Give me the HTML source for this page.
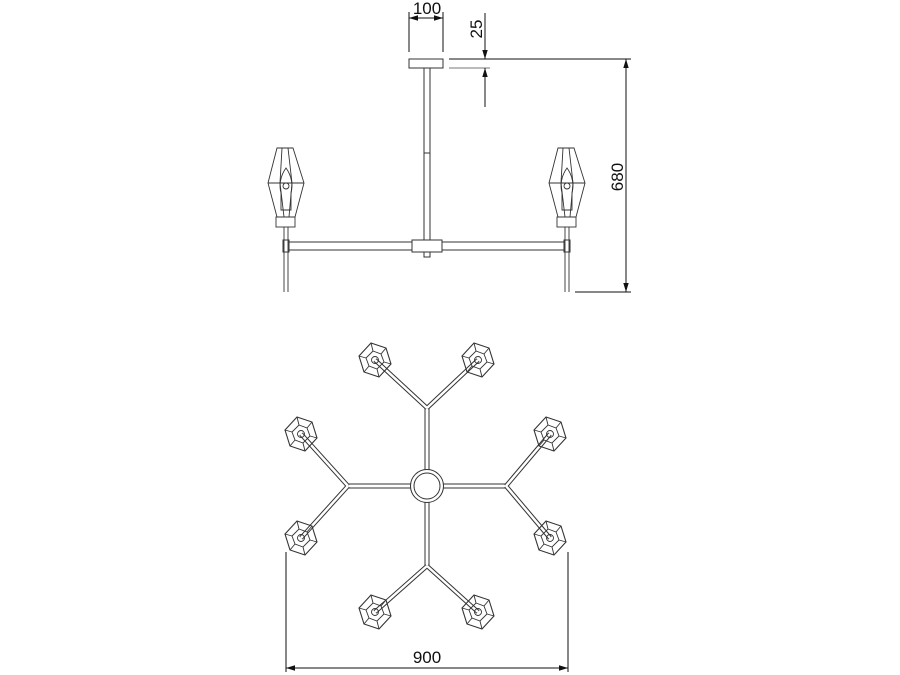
<!DOCTYPE html>
<html><head><meta charset="utf-8"><style>
html,body{margin:0;padding:0;background:#fff;}
svg{display:block}
text{font-family:"Liberation Sans",sans-serif;fill:#111}
</style></head><body>
<svg width="900" height="675" viewBox="0 0 900 675" xmlns="http://www.w3.org/2000/svg">
<defs>
<marker id="ar" viewBox="0 0 10 10" refX="10" refY="5" markerWidth="9" markerHeight="9" orient="auto-start-reverse" markerUnits="userSpaceOnUse"><path d="M0,2 L10,5 L0,8 z" fill="#111"/></marker>
<g id="shade" fill="none" stroke="#333" stroke-width="0.9">
<polygon points="-9,0 7,0 18,35 9,69 -9,69 -18,35"/>
<line x1="-18" y1="35" x2="18" y2="35"/>
<polyline points="-4,0 -6,35 -2,69"/>
<polyline points="2,0 6,35 3,69"/>
<path d="M0,20 C-6,28 -7,38 -5,45 L-5,62 L5,62 L5,45 C7,38 6,28 0,20 z"/>
<circle cx="0" cy="38" r="3"/>
<rect x="-10" y="69" width="19" height="10"/>
<line x1="-2" y1="79" x2="-2" y2="144"/>
<line x1="2" y1="79" x2="2" y2="144"/>
</g>
<g id="hex" fill="none" stroke="#333" stroke-width="0.9">
<polygon points="-4,-17 11,-12 16,4 4,17 -11,12 -16,-4" stroke-width="1.1"/>
<polygon points="-2,-9 6,-6 9,2 2,9 -6,6 -9,-2"/>
<line x1="-4" y1="-17" x2="-2" y2="-9"/><line x1="11" y1="-12" x2="6" y2="-6"/>
<line x1="16" y1="4" x2="9" y2="2"/><line x1="4" y1="17" x2="2" y2="9"/>
<line x1="-11" y1="12" x2="-6" y2="6"/><line x1="-16" y1="-4" x2="-9" y2="-2"/>
<circle r="3.5"/>
</g>
</defs>

<g fill="none" stroke="#333" stroke-width="1">
<rect x="409" y="59" width="34" height="9"/>
<rect x="424" y="68" width="6" height="172"/>
<line x1="424" y1="153" x2="430" y2="153"/>
<rect x="289" y="242" width="123" height="8"/>
<rect x="442" y="242" width="122" height="8"/>
<rect x="412" y="240" width="30" height="12"/>
<rect x="424" y="252" width="6" height="5"/>
<rect x="283" y="240" width="6" height="12"/>
<rect x="564" y="240" width="6" height="12"/>
</g>
<use href="#shade" x="286" y="148"/>
<use href="#shade" x="567" y="148"/>

<g stroke="#111" stroke-width="1" fill="none">
<line x1="409" y1="12" x2="409" y2="52"/>
<line x1="443" y1="12" x2="443" y2="52"/>
<line x1="409" y1="18" x2="443" y2="18" marker-start="url(#ar)" marker-end="url(#ar)"/>
<line x1="449" y1="59" x2="631" y2="59"/>
<line x1="449" y1="68" x2="490" y2="68" stroke="#777"/>
<line x1="485" y1="13" x2="485" y2="59" marker-end="url(#ar)"/>
<line x1="485" y1="107" x2="485" y2="68" marker-end="url(#ar)"/>
<line x1="626" y1="59" x2="626" y2="292" marker-start="url(#ar)" marker-end="url(#ar)"/>
<line x1="575" y1="292" x2="631" y2="292"/>
</g>
<text x="427" y="14" font-size="17" text-anchor="middle">100</text>
<text transform="translate(482,29) rotate(-90)" font-size="17" text-anchor="middle">25</text>
<text transform="translate(623,177) rotate(-90)" font-size="17" text-anchor="middle">680</text>

<g fill="none" stroke="#333" stroke-width="1">
<circle cx="427" cy="486" r="16.5"/>
<circle cx="427" cy="486" r="13"/>
<line x1="425" y1="408" x2="425" y2="470"/><line x1="429" y1="408" x2="429" y2="470"/>
<line x1="425" y1="502" x2="425" y2="566"/><line x1="429" y1="502" x2="429" y2="566"/>
<line x1="348" y1="484" x2="411" y2="484"/><line x1="348" y1="488" x2="411" y2="488"/>
<line x1="443" y1="484" x2="506" y2="484"/><line x1="443" y1="488" x2="506" y2="488"/>
</g>
<g stroke="#333" stroke-width="4.5" stroke-linecap="butt">
<line x1="427" y1="408" x2="375" y2="360"/><line x1="427" y1="408" x2="478" y2="360"/>
<line x1="427" y1="566" x2="375" y2="612"/><line x1="427" y1="566" x2="478" y2="612"/>
<line x1="348" y1="486" x2="301" y2="434"/><line x1="348" y1="486" x2="301" y2="538"/>
<line x1="506" y1="486" x2="550" y2="434"/><line x1="506" y1="486" x2="550" y2="538"/>
</g>
<g stroke="#fff" stroke-width="2.5">
<line x1="427" y1="408" x2="375" y2="360"/><line x1="427" y1="408" x2="478" y2="360"/>
<line x1="427" y1="566" x2="375" y2="612"/><line x1="427" y1="566" x2="478" y2="612"/>
<line x1="348" y1="486" x2="301" y2="434"/><line x1="348" y1="486" x2="301" y2="538"/>
<line x1="506" y1="486" x2="550" y2="434"/><line x1="506" y1="486" x2="550" y2="538"/>
</g>
<use href="#hex" x="375" y="360"/><use href="#hex" x="478" y="360"/>
<use href="#hex" x="301" y="434"/><use href="#hex" x="550" y="434"/>
<use href="#hex" x="301" y="538"/><use href="#hex" x="550" y="538"/>
<use href="#hex" x="375" y="612"/><use href="#hex" x="478" y="612"/>

<g stroke="#111" stroke-width="1" fill="none">
<line x1="286" y1="552" x2="286" y2="672"/>
<line x1="568" y1="552" x2="568" y2="672"/>
<line x1="286" y1="668" x2="568" y2="668" marker-start="url(#ar)" marker-end="url(#ar)"/>
</g>
<text x="427" y="663" font-size="17" text-anchor="middle">900</text>
</svg>
</body></html>
